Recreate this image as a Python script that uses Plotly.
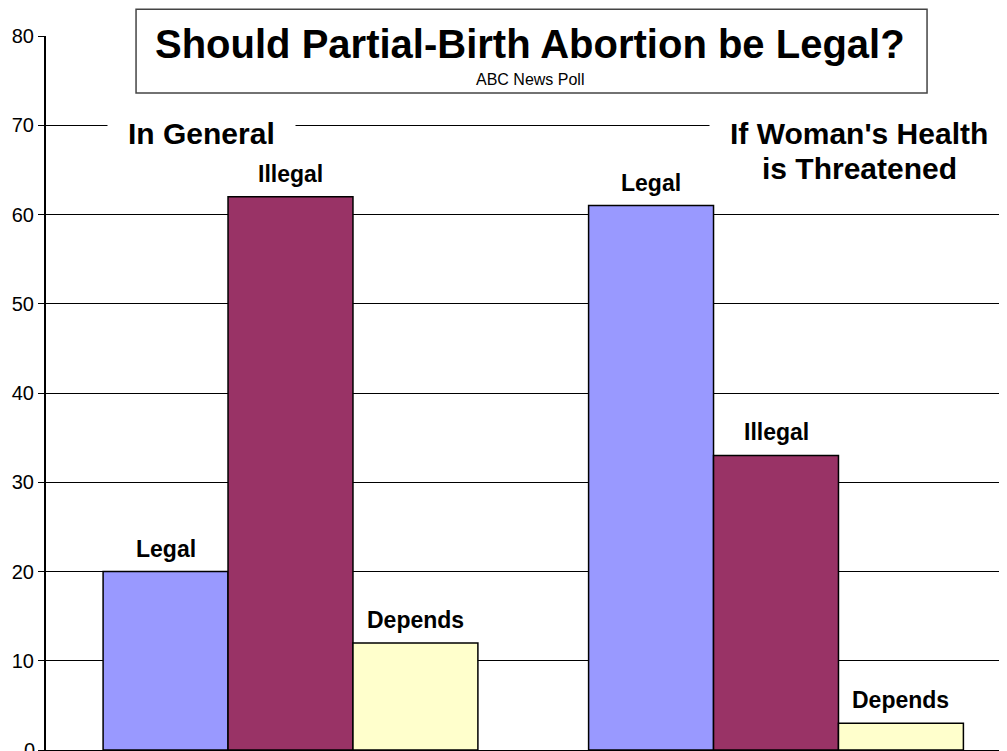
import plotly.graph_objects as go

groups = ["In General", "If Woman's Health is Threatened"]
series = ["Legal", "Illegal", "Depends"]
legal = [20, 61]
illegal = [62, 33]
depends = [12, 3]
colors = ["#9999FF", "#993366", "#FFFFCC"]
values = [legal, illegal, depends]
y_ticks = [0, 10, 20, 30, 40, 50, 60, 70, 80]

FONT = "Liberation Sans, Arial, sans-serif"
BARGAP = 0.228

fig = go.Figure()
for name, vals, col in zip(series, values, colors):
    fig.add_trace(go.Bar(
        x=[0, 1], y=vals, name=name,
        marker=dict(color=col, line=dict(color="black", width=1.5)),
        showlegend=False, hoverinfo="skip",
    ))

annotations = []

# Group titles (white background hides the gridline behind them)
annotations.append(dict(
    x=0.1613, y=70, xref="paper", yref="y", text="<b>In General</b>",
    showarrow=False, font=dict(family=FONT, size=30, color="black"),
    bgcolor="white", borderpad=20, xanchor="center", yanchor="middle", yshift=-8,
))
annotations.append(dict(
    x=0.846, y=70, xref="paper", yref="y", text="<b>If Woman's Health</b>",
    showarrow=False, font=dict(family=FONT, size=30, color="black"),
    bgcolor="white", borderpad=20, xanchor="center", yanchor="middle", yshift=-8,
))
annotations.append(dict(
    x=0.846, y=70, xref="paper", yref="y", text="<b>is Threatened</b>",
    showarrow=False, font=dict(family=FONT, size=30, color="black"),
    xanchor="center", yanchor="middle", yshift=-43,
))

# Bar labels above each bar
w = (1 - BARGAP) / len(series)
for si, (name, vals) in enumerate(zip(series, values)):
    for gi, v in enumerate(vals):
        annotations.append(dict(
            x=gi + (si - 1) * w, y=v, xref="x", yref="y",
            text=f"<b>{name}</b>", showarrow=False, xanchor="center",
            yanchor="bottom", yshift=8,
            font=dict(family=FONT, size=23, color="black"),
        ))

# Bottom "0" tick label (partly cut off by the page edge, as in the original)
annotations.append(dict(
    x=0, y=y_ticks[0], xref="paper", yref="y", text=str(y_ticks[0]),
    showarrow=False, xanchor="right", yanchor="middle", xshift=-9,
    font=dict(family=FONT, size=20, color="black"),
))

# Title box contents
annotations.append(dict(
    x=0.504, y=1.0, xref="paper", yref="paper",
    text="<b>Should Partial-Birth Abortion be Legal?</b>",
    showarrow=False, xanchor="center", yanchor="middle", yshift=-8,
    font=dict(family=FONT, size=40, color="black"),
))
annotations.append(dict(
    x=0.504, y=1.0, xref="paper", yref="paper",
    text="ABC News Poll",
    showarrow=False, xanchor="center", yanchor="middle", yshift=-43,
    font=dict(family=FONT, size=16, color="black"),
))

fig.update_layout(
    width=999, height=743,
    margin=dict(l=38, r=0, t=28, b=1),
    paper_bgcolor="white", plot_bgcolor="white",
    barmode="group", bargap=BARGAP, bargroupgap=0,
    annotations=annotations,
    shapes=[dict(
        type="rect", xref="paper", yref="paper",
        x0=0.0937, x1=0.9168, y0=0.920, y1=1.0375,
        fillcolor="white", line=dict(color="#444444", width=1.5),
        layer="above",
    )],
    xaxis=dict(
        range=[-0.5036, 1.4758], showticklabels=False, ticks="",
        showgrid=False, showline=True, linecolor="black", linewidth=2,
        zeroline=False, tickvals=[0, 1], ticktext=groups,
    ),
    yaxis=dict(
        range=[0, 80], tickvals=y_ticks, showgrid=True,
        gridcolor="black", gridwidth=1, showline=True, linecolor="black",
        linewidth=2, ticks="outside", ticklen=6, tickcolor="black",
        tickfont=dict(family=FONT, size=20, color="black"), zeroline=False,
    ),
    font=dict(family=FONT),
)

fig.write_html("out.html")
